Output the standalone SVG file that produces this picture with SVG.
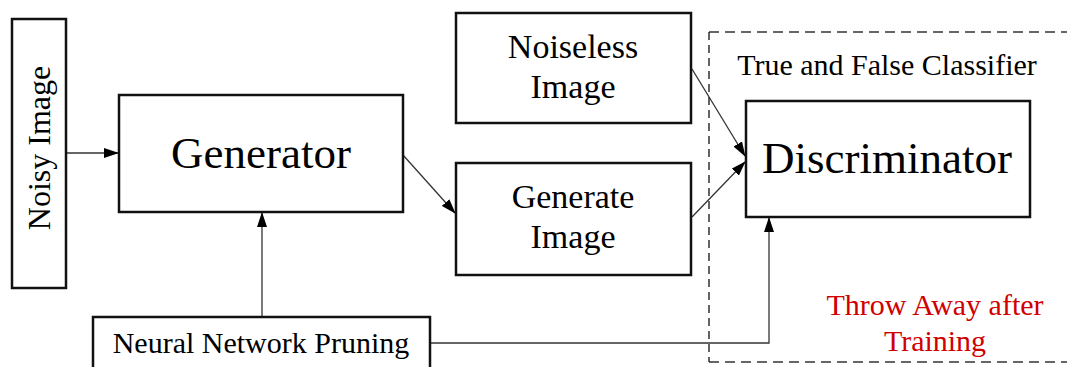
<svg xmlns="http://www.w3.org/2000/svg" width="1067" height="367" viewBox="0 0 1067 367">
<style>
.box{fill:#fff;stroke:#111;stroke-width:2.5}
.t{font-family:"Liberation Serif","Times New Roman",serif;fill:#000;text-anchor:middle}
.red{fill:#d00000}
.conn{fill:none;stroke:#333;stroke-width:1.3}
</style>
<defs>
<marker id="ah" markerWidth="15" markerHeight="10" refX="14" refY="5" orient="auto" markerUnits="userSpaceOnUse">
<path d="M0,0 L15,5 L0,10 Z" fill="#000"/>
</marker>
</defs>
<rect width="1067" height="367" fill="#fff"/>
<g id="classifier-frame">
<path d="M709,32 H1067 M709,362 H1067" fill="none" stroke="#666" stroke-width="2" stroke-dasharray="10 6"/>
<path d="M709,32 V362" fill="none" stroke="#111" stroke-width="1.3" stroke-dasharray="8 5"/>
<text class="t" x="887" y="75" font-size="30">True and False Classifier</text>
<text class="t red" x="935" y="315" font-size="30">Throw Away after</text>
<text class="t red" x="935" y="351" font-size="30">Training</text>
</g>
<g id="connectors">
<path class="conn" d="M66,153 H118" marker-end="url(#ah)"/>
<path class="conn" d="M262,317 V213" marker-end="url(#ah)"/>
<path class="conn" d="M403,155 L455,213" marker-end="url(#ah)"/>
<path class="conn" d="M692,69 L745,156" marker-end="url(#ah)"/>
<path class="conn" d="M692,217 L745,162" marker-end="url(#ah)"/>
<path class="conn" d="M430,343 H769 V218" marker-end="url(#ah)"/>
</g>
<g id="noisy-image">
<rect class="box" x="12" y="19" width="54" height="269"/>
<text class="t" x="0" y="0" font-size="32" transform="translate(50,148) rotate(-90)">Noisy Image</text>
</g>
<g id="generator">
<rect class="box" x="119" y="95" width="284" height="117"/>
<text class="t" x="261" y="168" font-size="45">Generator</text>
</g>
<g id="noiseless-image">
<rect class="box" x="456" y="13" width="235" height="110"/>
<text class="t" x="573" y="58" font-size="34">Noiseless</text>
<text class="t" x="573" y="98" font-size="34">Image</text>
</g>
<g id="generate-image">
<rect class="box" x="456" y="163" width="235" height="112"/>
<text class="t" x="573" y="208" font-size="34">Generate</text>
<text class="t" x="573" y="248" font-size="34">Image</text>
</g>
<g id="discriminator">
<rect class="box" x="746" y="101" width="284" height="116"/>
<text class="t" x="887" y="173" font-size="45">Discriminator</text>
</g>
<g id="pruning">
<rect class="box" x="93" y="317" width="337" height="60"/>
<text class="t" x="261" y="353" font-size="30">Neural Network Pruning</text>
</g>
</svg>
